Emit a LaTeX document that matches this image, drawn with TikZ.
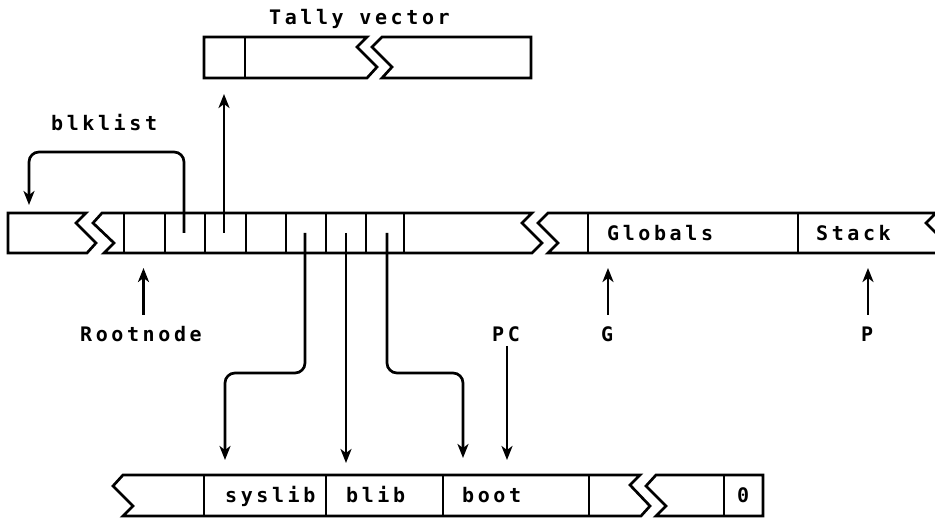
\documentclass[tikz,border=0pt]{standalone}
\usepackage{fontspec}
\newfontfamily\monof[LetterSpace=18]{DejaVu Sans Mono Bold}
\usetikzlibrary{arrows.meta}
\begin{document}
\begin{tikzpicture}[x=1pt,y=-1pt,
  box/.style={draw, line width=2.7pt, line join=miter},
  lbl/.style={font=\monof\fontsize{20}{20}\selectfont, inner sep=0pt, anchor=base west},
  ptr/.style={draw, line width=2.7pt, rounded corners=10pt, -{Stealth[length=14pt,width=11pt,inset=4pt]}}]
\useasboundingbox (0,0) rectangle (935,518);
\clip (0,0) rectangle (935,518);

% Tally vector
\draw[box] (204,37) -- (367,37) -- (357,47) -- (377,67) -- (367,78) -- (204,78) -- cycle;
\draw[box] (245,37) -- (245,78);
\draw[box] (382,37) -- (531,37) -- (531,78) -- (382,78) -- (392,67) -- (372,47) -- cycle;

% main row
\draw[box] (8,213) -- (86,213) -- (76,223) -- (96,243) -- (87,253) -- (8,253) -- cycle;
\draw[box] (102,213) -- (532,213) -- (522,223) -- (542,243) -- (532,253) -- (104,253) -- (114,243) -- (93,223) -- cycle;
\foreach \x in {124,165,205,246,286,326,366,404} \draw[box] (\x,213) -- (\x,253);
\draw[box] (548,213) -- (936,213) -- (926,223) -- (946,243) -- (936,253) -- (548,253) -- (558,243) -- (538,223) -- cycle;
\foreach \x in {588,798} \draw[box] (\x,213) -- (\x,253);

% bottom row
\draw[box] (123,475) -- (640,475) -- (630,485) -- (650,506) -- (641,516) -- (123,516) -- (133,506) -- (113,486) -- cycle;
\foreach \x in {204,326,443,589} \draw[box] (\x,475) -- (\x,516);
\draw[box] (656,475) -- (763,475) -- (763,516) -- (656,516) -- (666,506) -- (646,486) -- cycle;
\draw[box] (724,475) -- (724,516);

% labels
\node[lbl] (tallyL) at (269,25) {Tally vector};
\node[lbl] (blkL) at (51,131) {blklist};
\node[lbl] (glob) at (607,241) {Globals};
\node[lbl] (stack) at (816,241) {Stack};
\node[lbl] (root) at (80,341.5) {Rootnode};
\node[lbl] (Gl) at (601,341.5) {G};
\node[lbl] (Pl) at (861,341.5) {P};
\node[lbl] (PCl) at (492,341.5) {PC};
\node[lbl] (sys) at (225,503) {syslib};
\node[lbl] (blib) at (346,503) {blib};
\node[lbl] (boot) at (462,503) {boot};
\node[lbl] (zero) at (737,503) {0};

% connector ends
\coordinate (rootbase) at (143.5,315);
\coordinate (roottip) at (143.5,268);
\coordinate (blkcell) at (184,233);
\coordinate (blktip) at (29,205);
\coordinate (tallycell) at (224,233);
\coordinate (tallytip) at (224,94);
\coordinate (syscell) at (305,233);
\coordinate (systip) at (225,460);
\coordinate (blibcell) at (346,233);
\coordinate (blibtip) at (346,463);
\coordinate (bootcell) at (387,233);
\coordinate (boottip) at (463,458);
\coordinate (pcstart) at (507,346);
\coordinate (pctip) at (507,460);
\coordinate (gbase) at (608,315);
\coordinate (gtip) at (608,268);
\coordinate (pbase) at (868,315);
\coordinate (ptip) at (868,268);

% connectors
\draw[ptr] (blkcell) -- (184,152) -- (29,152) -- (blktip);
\draw[ptr] (tallycell) -- (tallytip);
\draw[ptr] (rootbase) -- (roottip);
\draw[ptr] (gbase) -- (gtip);
\draw[ptr] (pbase) -- (ptip);
\draw[ptr] (syscell) -- (305,373) -- (225,373) -- (systip);
\draw[ptr] (blibcell) -- (blibtip);
\draw[ptr] (bootcell) -- (387,373) -- (463,373) -- (boottip);
\draw[ptr] (pcstart) -- (pctip);
\end{tikzpicture}
\end{document}
